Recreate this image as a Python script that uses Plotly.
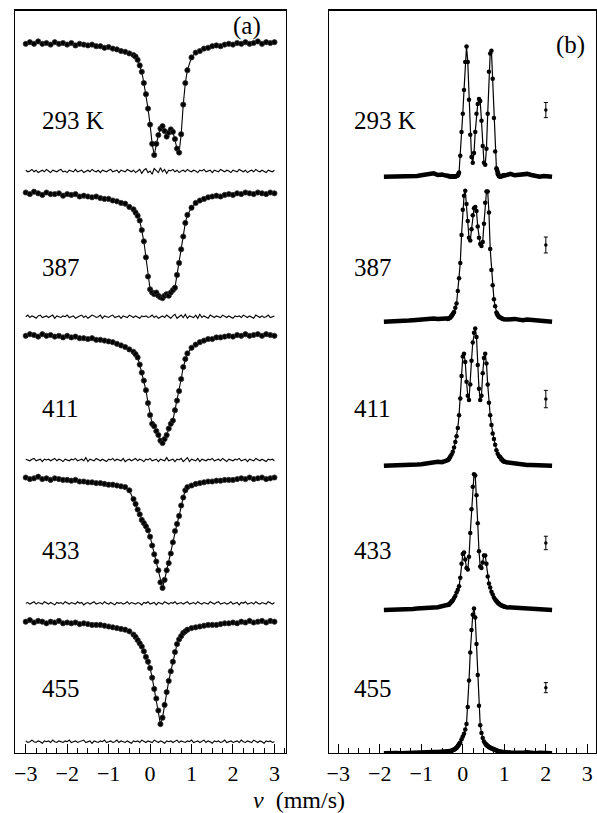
import plotly.graph_objects as go

# ---------------- data ----------------
TEMPS_A = ["293 K", "387", "411", "433", "455"]
TEMPS_B = ["293 K", "387", "411", "433", "455"]

# panel (a): velocity (mm/s) and relative transmission (%)
V_A = [-3.0,-2.9,-2.8,-2.7,-2.6,-2.5,-2.4,-2.3,-2.2,-2.1,-2.0,-1.9,-1.8,-1.7,-1.6,-1.5,-1.4,-1.3,-1.2,-1.1,-1.0,-0.9,-0.8,-0.7,-0.6,-0.5,
       -0.4,-0.35,-0.3,-0.25,-0.2,-0.15,-0.1,-0.05,0.0,0.05,0.1,0.15,0.2,0.25,0.3,0.35,0.4,0.45,0.5,0.55,0.6,0.65,0.7,0.75,0.8,0.85,0.9,
       1.0,1.1,1.2,1.3,1.4,1.5,1.6,1.7,1.8,1.9,2.0,2.1,2.2,2.3,2.4,2.5,2.6,2.7,2.8,2.9,3.0]

T_293 = [99.9,100.1,99.9,100.2,99.9,100.0,99.8,100.1,99.9,100.0,99.8,100.0,99.7,99.9,99.8,99.7,99.8,99.6,99.6,99.4,99.5,99.3,99.2,99.0,98.9,98.7,
         98.5,98.3,97.9,97.2,96.4,95.0,93.6,91.8,89.8,87.4,86.0,87.4,88.5,89.3,89.6,89.0,88.3,88.8,89.2,88.9,88.0,86.8,86.3,88.6,92.3,95.0,96.6,
         98.2,98.8,99.0,99.3,99.4,99.6,99.7,99.6,99.8,99.9,99.8,100.0,99.9,100.1,99.9,100.0,100.2,99.9,100.1,100.0,100.1]
T_387 = [100.1,99.9,100.2,100.0,99.8,100.1,99.9,99.9,100.0,99.7,99.9,99.8,99.9,99.6,99.7,99.6,99.5,99.6,99.4,99.3,99.3,99.1,99.0,98.8,98.7,98.3,
         98.0,97.6,97.2,96.6,95.4,94.0,92.0,89.6,88.0,87.6,87.4,87.6,87.2,87.0,86.9,87.2,87.4,87.2,87.6,87.9,88.2,89.8,91.3,93.0,94.6,96.3,97.3,
         98.2,98.8,99.1,99.3,99.5,99.6,99.7,99.6,99.8,99.9,99.8,100.0,99.9,100.1,100.0,99.9,100.1,100.0,99.9,100.1,100.0]
T_411 = [99.9,100.1,100.0,99.8,100.1,99.9,100.0,99.8,99.9,99.7,99.9,99.7,99.8,99.6,99.6,99.5,99.6,99.4,99.4,99.3,99.2,99.1,98.9,98.7,98.5,98.2,
         97.9,97.6,97.2,96.3,95.3,94.3,93.1,91.5,90.0,88.9,88.6,88.0,87.5,86.8,86.5,87.0,87.5,88.3,88.9,89.3,90.6,91.8,93.0,94.5,96.0,97.0,97.7,
         98.4,98.8,99.1,99.3,99.5,99.5,99.7,99.7,99.8,99.9,99.8,100.0,99.9,100.1,99.9,100.0,100.1,99.9,100.1,100.0,99.9]
T_433 = [100.1,99.9,100.0,100.2,99.9,100.0,99.8,100.0,99.9,99.8,99.8,99.7,99.8,99.6,99.6,99.5,99.5,99.4,99.4,99.3,99.2,99.2,99.1,99.0,98.9,98.5,
         97.4,96.8,96.1,95.5,94.8,94.4,94.0,93.5,92.7,91.6,90.5,89.6,88.5,87.0,86.3,87.3,88.5,89.4,90.6,92.0,93.4,94.3,95.3,96.6,97.6,98.5,98.9,
         99.1,99.3,99.4,99.5,99.6,99.6,99.7,99.7,99.8,99.8,99.8,99.9,100.0,99.9,100.1,99.9,100.0,100.1,99.9,100.0,100.1]
T_455 = [100.0,100.2,99.9,100.1,100.0,99.8,100.0,99.9,100.1,99.8,99.9,99.8,99.9,99.7,99.8,99.7,99.6,99.6,99.6,99.5,99.4,99.3,99.2,99.1,99.0,98.8,
         98.4,98.1,97.7,97.3,96.9,96.3,95.6,95.0,94.2,93.0,91.6,90.4,88.9,87.2,88.0,89.6,91.2,92.6,93.8,95.0,96.2,97.2,97.8,98.2,98.6,98.8,99.0,
         99.2,99.3,99.4,99.5,99.6,99.6,99.6,99.7,99.8,99.8,99.9,99.8,100.0,99.9,100.1,99.9,100.0,100.1,99.9,100.1,100.0]

# residuals (%), velocity grid
V_R = [-3.0,-2.95,-2.9,-2.85,-2.8,-2.75,-2.7,-2.65,-2.6,-2.55,-2.5,-2.45,-2.4,-2.35,-2.3,-2.25,-2.2,-2.15,-2.1,-2.05,
       -2.0,-1.95,-1.9,-1.85,-1.8,-1.75,-1.7,-1.65,-1.6,-1.55,-1.5,-1.45,-1.4,-1.35,-1.3,-1.25,-1.2,-1.15,-1.1,-1.05,
       -1.0,-0.95,-0.9,-0.85,-0.8,-0.75,-0.7,-0.65,-0.6,-0.55,-0.5,-0.45,-0.4,-0.35,-0.3,-0.25,-0.2,-0.15,-0.1,-0.05,
       0.0,0.05,0.1,0.15,0.2,0.25,0.3,0.35,0.4,0.45,0.5,0.55,0.6,0.65,0.7,0.75,0.8,0.85,0.9,0.95,
       1.0,1.05,1.1,1.15,1.2,1.25,1.3,1.35,1.4,1.45,1.5,1.55,1.6,1.65,1.7,1.75,1.8,1.85,1.9,1.95,
       2.0,2.05,2.1,2.15,2.2,2.25,2.3,2.35,2.4,2.45,2.5,2.55,2.6,2.65,2.7,2.75,2.8,2.85,2.9,2.95,3.0]
R_293 = [0.1,-0.1,0.0,0.2,-0.1,0.1,-0.2,0.0,0.1,-0.1,0.2,0.0,-0.2,0.1,0.0,-0.1,0.1,0.2,-0.1,0.0,
         -0.2,0.1,0.0,-0.1,0.2,-0.1,0.0,0.1,-0.2,0.0,0.1,-0.1,0.2,0.0,-0.1,0.1,-0.2,0.1,0.0,-0.1,
         0.1,0.2,-0.1,0.0,0.1,-0.2,0.1,0.0,-0.1,0.2,0.0,-0.1,0.1,-0.2,0.0,0.2,-0.3,0.1,0.3,-0.2,
         0.0,-0.4,0.3,0.1,-0.2,0.4,-0.1,0.2,-0.3,0.1,0.0,0.2,-0.1,0.1,-0.2,0.0,0.1,-0.1,0.2,0.0,
         -0.1,0.1,0.0,-0.2,0.1,0.0,0.2,-0.1,0.0,0.1,-0.2,0.1,0.0,-0.1,0.2,0.0,-0.1,0.1,0.0,-0.2,
         0.1,0.0,-0.1,0.2,0.0,-0.1,0.1,-0.2,0.0,0.1,-0.1,0.2,0.0,-0.1,0.1,0.0,-0.2,0.1,0.0,-0.1,0.1]
R_387 = [0.0,0.2,-0.1,0.1,0.0,-0.2,0.1,0.2,-0.1,0.0,0.1,-0.1,0.0,0.2,-0.2,0.1,0.0,-0.1,0.1,0.0,
         0.2,-0.1,0.0,0.1,-0.2,0.0,0.1,0.2,-0.1,0.1,-0.2,0.0,0.2,0.1,-0.1,0.0,0.2,-0.2,0.1,0.0,
         -0.1,0.1,0.2,-0.1,0.0,0.1,-0.2,0.1,0.0,-0.1,0.2,0.0,-0.1,0.1,0.0,-0.2,0.1,0.0,0.1,-0.1,
         0.0,0.2,-0.1,0.1,-0.2,0.0,0.1,-0.1,0.2,0.0,-0.2,0.1,0.3,-0.2,0.0,0.2,-0.1,0.3,-0.2,0.1,
         0.0,-0.1,0.2,-0.2,0.3,-0.1,0.1,0.0,-0.2,0.2,0.0,-0.1,0.1,0.0,-0.1,0.2,0.0,-0.1,0.1,0.0,
         -0.2,0.1,0.0,0.1,-0.1,0.2,0.0,-0.1,0.1,0.0,-0.2,0.2,0.0,-0.1,0.1,-0.1,0.0,0.2,-0.1,0.0,0.1]
R_411 = [0.1,0.0,-0.1,0.1,0.2,-0.1,0.0,0.1,-0.2,0.1,0.0,0.1,-0.1,0.0,0.2,-0.1,0.1,0.0,-0.2,0.1,
         0.0,-0.1,0.1,0.0,0.2,-0.1,0.0,0.1,-0.1,0.3,-0.2,0.1,0.0,-0.1,0.2,0.0,-0.1,0.1,0.0,-0.2,
         0.1,0.0,0.2,-0.1,0.1,0.0,-0.1,0.2,-0.2,0.0,0.1,-0.1,0.0,0.2,-0.1,0.1,0.0,-0.2,0.1,0.0,
         0.2,-0.1,0.0,0.1,-0.2,0.1,0.0,-0.1,0.3,-0.1,0.0,0.1,-0.2,0.1,0.0,0.2,-0.2,0.1,0.3,-0.2,
         0.1,0.0,-0.1,0.2,-0.2,0.1,0.0,-0.1,0.1,0.0,0.2,-0.1,0.0,0.1,-0.1,0.2,0.0,-0.2,0.1,0.0,
         -0.1,0.1,0.0,0.2,-0.1,0.0,0.1,-0.2,0.1,0.0,-0.1,0.2,0.0,-0.1,0.1,0.0,-0.2,0.1,0.0,0.1,-0.1]
R_433 = [0.0,0.1,-0.1,0.0,0.2,-0.1,0.1,0.0,-0.1,0.2,0.0,-0.1,0.1,0.0,-0.2,0.1,0.0,0.1,-0.1,0.2,
         0.0,-0.1,0.1,0.0,-0.1,0.2,0.0,0.1,-0.2,0.0,0.1,-0.1,0.0,0.2,-0.1,0.0,0.1,-0.1,0.2,0.0,
         -0.1,0.1,0.0,-0.2,0.1,0.0,0.1,-0.1,0.0,0.2,-0.1,0.1,0.0,-0.1,0.1,0.0,-0.2,0.1,0.0,0.2,
         -0.1,0.0,0.1,-0.2,0.1,0.0,-0.1,0.2,0.0,-0.1,0.1,0.0,0.2,-0.1,0.0,0.1,-0.1,0.0,0.2,-0.1,
         0.0,0.1,-0.1,0.2,0.0,-0.1,0.1,0.0,-0.1,0.2,0.0,-0.1,0.1,0.2,-0.1,0.0,0.1,-0.1,0.0,0.2,
         -0.1,0.0,0.1,-0.2,0.1,0.0,0.2,-0.1,0.0,0.1,-0.1,0.2,0.0,-0.1,0.1,0.0,-0.1,0.2,0.0,-0.1,0.1]
R_455 = [0.1,-0.1,0.0,0.2,0.0,-0.1,0.1,0.0,-0.2,0.1,0.0,0.1,-0.1,0.2,0.0,-0.1,0.1,0.0,-0.1,0.1,
         0.0,0.2,-0.1,0.0,0.1,-0.1,0.0,0.1,0.2,-0.1,0.0,0.1,-0.2,0.1,0.0,-0.1,0.1,0.0,0.2,-0.1,
         0.0,0.1,-0.1,0.0,0.2,-0.1,0.1,0.0,-0.1,0.1,0.0,-0.2,0.1,0.0,0.1,-0.1,0.2,0.0,-0.1,0.1,
         0.0,-0.1,0.2,0.0,-0.1,0.1,0.0,-0.2,0.1,0.0,0.1,-0.1,0.0,0.2,-0.1,0.1,0.0,-0.1,0.1,0.0,
         0.2,-0.1,0.0,0.1,-0.1,0.0,0.2,-0.1,0.1,0.0,-0.2,0.1,0.0,0.1,-0.1,0.0,0.2,-0.1,0.0,0.1,
         -0.1,0.0,0.1,-0.1,0.2,0.0,-0.1,0.1,0.0,-0.1,0.2,0.0,-0.1,0.1,0.0,-0.2,0.1,0.0,0.1,-0.1,0.0]

# panel (b): velocity (mm/s) and distribution p(v), arb. units
V_B = [-1.9,-1.8,-1.7,-1.6,-1.5,-1.4,-1.3,-1.2,-1.1,-1.0,-0.9,-0.8,-0.7,-0.6,-0.5,-0.4,
       -0.36,-0.33,-0.30,-0.27,-0.24,-0.21,-0.18,-0.15,-0.12,-0.09,-0.06,-0.03,0.0,0.03,0.06,0.09,0.12,0.15,0.18,0.21,0.24,0.27,0.30,
       0.33,0.36,0.39,0.42,0.45,0.48,0.51,0.54,0.57,0.60,0.63,0.66,0.69,0.72,0.75,0.78,0.81,0.84,0.87,0.90,0.93,0.96,0.99,
       1.05,1.15,1.25,1.35,1.45,1.55,1.65,1.75,1.85,1.95,2.05,2.15]
P_293 = [0.0,0.0,0.0,0.002,0.0,0.0,0.003,0.0,0.005,0.01,0.012,0.018,0.024,0.012,0.015,0.008,
         0.005,0.003,0.0,0.002,0.0,0.003,0.0,0.005,0.01,0.03,0.15,0.32,0.45,0.62,0.82,0.93,0.82,0.55,0.30,0.14,0.10,0.17,0.32,
         0.45,0.52,0.555,0.54,0.40,0.22,0.10,0.085,0.20,0.45,0.75,0.88,0.90,0.70,0.42,0.18,0.06,0.02,0.005,0.0,0.003,0.008,0.012,
         0.015,0.02,0.01,0.012,0.018,0.02,0.012,0.005,0.0,0.005,0.0,0.0]
P_387 = [0.0,0.0,0.003,0.005,0.003,0.005,0.008,0.01,0.012,0.015,0.02,0.025,0.022,0.02,0.022,0.025,
         0.02,0.025,0.03,0.04,0.055,0.07,0.10,0.13,0.22,0.31,0.42,0.62,0.80,0.90,0.935,0.84,0.72,0.60,0.58,0.66,0.76,0.81,0.82,
         0.79,0.68,0.60,0.555,0.54,0.57,0.70,0.85,0.93,0.93,0.78,0.52,0.37,0.26,0.16,0.11,0.065,0.045,0.035,0.03,0.025,0.02,0.018,
         0.015,0.02,0.02,0.015,0.01,0.015,0.012,0.005,0.003,0.0,0.0,0.0]
P_411 = [0.0,0.0,0.002,0.005,0.005,0.003,0.005,0.005,0.008,0.01,0.015,0.022,0.03,0.028,0.025,0.03,
         0.04,0.05,0.065,0.08,0.10,0.13,0.17,0.21,0.27,0.36,0.48,0.64,0.78,0.80,0.74,0.60,0.50,0.47,0.58,0.75,0.88,0.95,0.98,
         0.92,0.72,0.55,0.47,0.50,0.66,0.77,0.80,0.73,0.58,0.45,0.36,0.29,0.23,0.19,0.15,0.11,0.085,0.07,0.06,0.045,0.035,0.03,
         0.025,0.02,0.012,0.01,0.008,0.005,0.005,0.003,0.002,0.0,0.0,0.0]
P_433 = [0.0,0.0,0.0,0.002,0.003,0.003,0.005,0.007,0.01,0.013,0.02,0.022,0.018,0.02,0.025,0.03,
         0.035,0.04,0.05,0.06,0.07,0.085,0.10,0.125,0.145,0.17,0.23,0.33,0.40,0.41,0.36,0.30,0.29,0.38,0.55,0.72,0.88,0.97,0.96,
         0.82,0.62,0.42,0.31,0.30,0.34,0.39,0.39,0.33,0.24,0.19,0.16,0.13,0.11,0.09,0.075,0.062,0.052,0.045,0.038,0.032,0.028,0.025,
         0.02,0.018,0.015,0.012,0.012,0.008,0.005,0.003,0.005,0.002,0.0,0.0]
P_455 = [0.0,0.003,0.005,0.003,0.0,0.002,0.005,0.005,0.008,0.012,0.012,0.01,0.01,0.01,0.01,0.011,
         0.012,0.014,0.016,0.019,0.022,0.026,0.032,0.04,0.05,0.062,0.078,0.10,0.12,0.14,0.17,0.21,0.33,0.52,0.72,0.88,0.99,1.035,0.97,
         0.78,0.56,0.34,0.20,0.145,0.11,0.085,0.07,0.058,0.05,0.045,0.04,0.035,0.03,0.027,0.024,0.02,0.017,0.014,0.012,0.01,0.009,0.008,
         0.008,0.005,0.003,0.006,0.004,0.008,0.003,0.0,0.004,0.0,0.002,0.0]

# statistical error bars in panel (b)
ERR_V = 2.0
ERR_P = [0.476, 0.548, 0.476, 0.479, 0.469]
ERR_D = [0.054, 0.057, 0.062, 0.048, 0.036]

# ---------------- layout constants (page-pixel frame) ----------------
FW, FH = 597, 813
TOP, BOT = 10.5, 753.0
BASE_A = [43.0, 193.3, 335.0, 478.3, 621.7]
BASE_R = [171.0, 316.7, 460.0, 603.3, 741.7]
BASE_B = [176.7, 321.7, 465.7, 610.0, 753.3]
LABEL_Y = [120, 267, 408, 550, 688]
SCALE_A = 8.0      # px per % transmission
SCALE_B = 140.0    # px per unit p(v)


def px(x):
    return x / FW


def py(y):
    return 1 - y / FH


T_ALL = [T_293, T_387, T_411, T_433, T_455]
R_ALL = [R_293, R_387, R_411, R_433, R_455]
P_ALL = [P_293, P_387, P_411, P_433, P_455]

FONT = "Liberation Serif, Times New Roman, serif"
fig = go.Figure()

# panel (a)
for T, R, b, br in zip(T_ALL, R_ALL, BASE_A, BASE_R):
    ya = [b + (100.0 - t) * SCALE_A for t in T]
    fig.add_trace(go.Scatter(x=V_A, y=ya, mode="lines+markers", xaxis="x", yaxis="y",
                             line=dict(color="black", width=1.1),
                             marker=dict(symbol="circle", size=5.2, color="black",
                                         line=dict(width=0.8, color="#333")),
                             showlegend=False, hoverinfo="skip"))
    n = min(len(V_R), len(R))
    yr = [br - r * SCALE_A for r in R[:n]]
    fig.add_trace(go.Scatter(x=V_R[:n], y=yr, mode="lines", xaxis="x", yaxis="y",
                             line=dict(color="black", width=1.1),
                             showlegend=False, hoverinfo="skip"))

# panel (b)
C0, C1 = 16, 62
for P, b, ep, ed in zip(P_ALL, BASE_B, ERR_P, ERR_D):
    yb = [b - p * SCALE_B for p in P]
    thick = [y if p < 0.08 else None for y, p in zip(yb, P)]
    fig.add_trace(go.Scatter(x=V_B, y=thick, mode="lines", xaxis="x2", yaxis="y2",
                             line=dict(color="black", width=4.5), connectgaps=False,
                             showlegend=False, hoverinfo="skip"))
    fig.add_trace(go.Scatter(x=V_B[C0:C1], y=yb[C0:C1], mode="lines+markers", xaxis="x2", yaxis="y2",
                             line=dict(color="black", width=1.2),
                             marker=dict(symbol="circle", size=4.5, color="black"),
                             showlegend=False, hoverinfo="skip"))
    fig.add_trace(go.Scatter(x=[ERR_V], y=[b - ep * SCALE_B], mode="markers", xaxis="x2", yaxis="y2",
                             marker=dict(symbol="circle", size=3.5, color="black"),
                             error_y=dict(type="data", array=[ed * SCALE_B], color="black", thickness=1, width=2),
                             showlegend=False, hoverinfo="skip"))

ydom = [py(BOT), py(TOP)]
common_x = dict(showline=True, linecolor="black", linewidth=1.3, mirror=True, ticks="inside",
                ticklen=9, tickwidth=1, tickcolor="black", tick0=0, dtick=1,
                minor=dict(ticks="inside", ticklen=5, tickwidth=1, tickcolor="black", dtick=0.25, tick0=0),
                showgrid=False, zeroline=False, ticklabeloverflow="allow",
                tickfont=dict(family=FONT, size=22, color="black"))
common_y = dict(showline=True, linecolor="black", linewidth=1.3, mirror=True, ticks="",
                showticklabels=False, showgrid=False, zeroline=False, range=[BOT, TOP], domain=ydom)

fig.update_layout(
    width=FW, height=FH, margin=dict(l=0, r=0, t=0, b=0),
    paper_bgcolor="white", plot_bgcolor="white",
    xaxis=dict(domain=[px(13), px(285)], range=[-3.26, 3.28], anchor="y", **common_x),
    yaxis=dict(anchor="x", **common_y),
    xaxis2=dict(domain=[px(328), px(596)], range=[-3.224, 3.208], anchor="y2", **common_x),
    yaxis2=dict(anchor="x2", **common_y),
)

ann = []
for txt, yy in zip(TEMPS_A, LABEL_Y):
    ann.append(dict(x=px(38), y=py(yy), xref="paper", yref="paper", text=txt, showarrow=False,
                    xanchor="left", yanchor="middle", font=dict(family=FONT, size=25, color="black")))
for txt, yy in zip(TEMPS_B, LABEL_Y):
    ann.append(dict(x=px(351), y=py(yy), xref="paper", yref="paper", text=txt, showarrow=False,
                    xanchor="left", yanchor="middle", font=dict(family=FONT, size=25, color="black")))
ann.append(dict(x=px(246), y=py(26), xref="paper", yref="paper", text="(a)", showarrow=False,
                xanchor="center", yanchor="middle", font=dict(family=FONT, size=25, color="black")))
ann.append(dict(x=px(570), y=py(45), xref="paper", yref="paper", text="(b)", showarrow=False,
                xanchor="center", yanchor="middle", font=dict(family=FONT, size=25, color="black")))
ann.append(dict(x=px(298), y=py(800), xref="paper", yref="paper",
                text="<i>v</i>\u00a0\u00a0(mm/s)", showarrow=False,
                xanchor="center", yanchor="middle", font=dict(family=FONT, size=24, color="black")))
fig.update_layout(annotations=ann)

fig.write_html("out.html", config={"displayModeBar": False, "staticPlot": True},
               post_script="document.body.style.margin='0';document.body.style.overflow='hidden';")
